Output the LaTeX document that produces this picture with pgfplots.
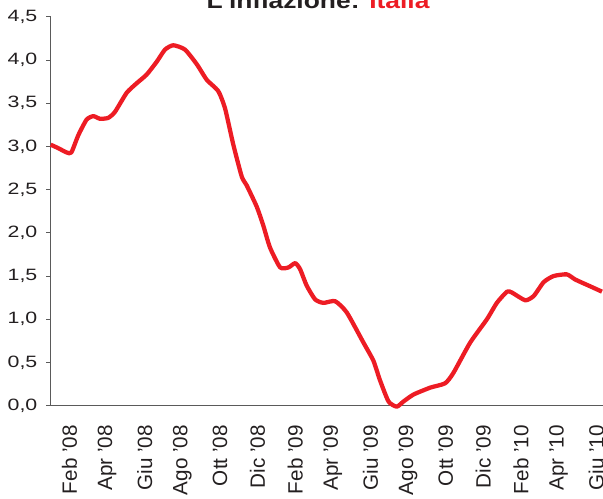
\documentclass[border=0pt]{standalone}
\usepackage{pgfplots}
\pgfplotsset{compat=1.18}
\usepackage{fontspec}
\setmainfont{Liberation Sans}
\newfontfamily\ystretch[FakeStretch=1.3]{Liberation Sans}
\newfontfamily\tstretch[FakeStretch=1.2]{Liberation Sans}
\definecolor{redline}{RGB}{237,28,36}
\definecolor{txt}{RGB}{35,31,32}
\definecolor{axgray}{RGB}{90,90,90}
\begin{document}
\begin{tikzpicture}
\begin{axis}[
  at={(0,0)}, anchor=origin,
  scale only axis,
  width=414pt, height=291.75pt,
  xmin=0, xmax=29.35, ymin=0, ymax=4.5,
  clip=false,
  axis x line*=bottom, axis y line*=left,
  axis line style={-, draw=axgray, line width=0.8pt},
  xtick={1,3,5,7,9,11,13,15,17,19,21,23,25,27,29},
  xticklabels={Feb '08,Apr '08,Giu '08,Ago '08,Ott '08,Dic '08,Feb '09,Apr '09,Giu '09,Ago '09,Ott '09,Dic '09,Feb '10,Apr '10,Giu '10},
  xtick style={draw=none},
  xticklabel style={rotate=90, anchor=east, font=\fontsize{15.5}{17}\selectfont, text=txt},
  xticklabel shift=7.5pt,
  ytick={0,0.5,...,4.5},
  ytick style={draw=axgray, line width=0.6pt},
  tick align=outside,
  major tick length=3.5pt,
  yticklabel style={font=\ystretch\fontsize{12.3}{14}\selectfont, text=txt},
  yticklabel shift=3pt,
  /pgf/number format/.cd, fixed, fixed zerofill, precision=1, use comma, assume math mode=true,
]
\addplot[redline, line width=3.2pt, smooth, tension=0.35, line join=round] coordinates {
(0,3.02) (0.4,2.98) (0.85,2.93) (1.1,2.93) (1.47,3.13) (1.91,3.31) (2.27,3.35)
(2.62,3.32) (3.06,3.33) (3.42,3.40) (4.04,3.62) (4.57,3.73) (5.1,3.83) (5.64,3.98)
(6.08,4.12) (6.52,4.17) (7.14,4.12) (7.77,3.95) (8.3,3.77) (8.91,3.64) (9.27,3.44)
(9.71,3.02) (10.16,2.65) (10.42,2.55) (10.96,2.30) (11.31,2.08) (11.66,1.83)
(12.2,1.60) (12.64,1.60) (13.0,1.65) (13.26,1.58) (13.61,1.39) (14.06,1.23)
(14.5,1.19) (15.12,1.21) (15.74,1.08) (16.63,0.73) (17.16,0.52) (17.5,0.30)
(17.96,0.05) (18.4,-0.01) (18.76,0.05) (19.29,0.13) (20.18,0.21) (20.97,0.26)
(21.41,0.38) (22.3,0.73) (23.19,1.00) (23.72,1.19) (24.26,1.32) (24.52,1.31)
(25.23,1.22) (25.68,1.27) (26.21,1.43) (26.73,1.50) (27.44,1.52) (27.89,1.46)
(28.6,1.39) (29.31,1.32)
};
\end{axis}
\node[anchor=base, font=\tstretch\bfseries\fontsize{16.5}{18}\selectfont, text=txt] at (200.5pt,297.9pt) {L'inflazione: \textcolor{redline}{Italia}};
\pgfresetboundingbox
\path[use as bounding box] (-38pt,-69.2pt) rectangle (414.2pt,304.3pt);
\end{tikzpicture}
\end{document}
